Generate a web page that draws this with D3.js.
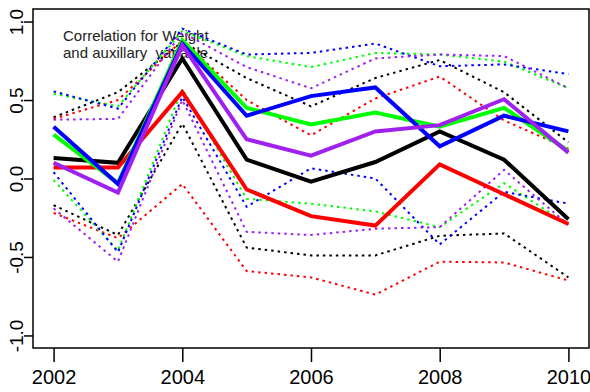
<!DOCTYPE html>
<html>
<head>
<meta charset="utf-8">
<script src="https://cdn.jsdelivr.net/npm/d3@7/dist/d3.min.js"></script>
<style>
  body { margin: 0; background: #fff; }
</style>
</head>
<body>
<script>
//Years along the bottom
var years = [2002, 2003, 2004, 2005, 2006, 2007, 2008, 2009, 2010];

//Each group has a correlation estimate plus a lower and upper band
var blackMean  = [0.13, 0.10, 0.765, 0.12, -0.02, 0.105, 0.30, 0.12, -0.26];
var blackUpper = [0.39, 0.55, 0.87, 0.64, 0.46, 0.64, 0.755, 0.55, 0.23];
var blackLower = [-0.17, -0.36, 0.35, -0.44, -0.49, -0.49, -0.365, -0.35, -0.63];

var redMean  = [0.07, 0.07, 0.55, -0.07, -0.24, -0.30, 0.09, -0.10, -0.29];
var redUpper = [0.38, 0.50, 0.88, 0.50, 0.275, 0.51, 0.65, 0.37, 0.19];
var redLower = [-0.22, -0.38, -0.035, -0.59, -0.63, -0.74, -0.53, -0.535, -0.65];

var greenMean  = [0.28, -0.03, 0.88, 0.45, 0.345, 0.42, 0.33, 0.45, 0.175];
var greenUpper = [0.54, 0.46, 0.94, 0.78, 0.71, 0.80, 0.79, 0.745, 0.575];
var greenLower = [-0.01, -0.46, 0.57, -0.13, -0.16, -0.21, -0.31, -0.03, -0.295];

var blueMean  = [0.33, -0.035, 0.86, 0.40, 0.525, 0.58, 0.205, 0.40, 0.30];
var blueUpper = [0.555, 0.445, 0.955, 0.79, 0.80, 0.86, 0.715, 0.727, 0.665];
var blueLower = [0.04, -0.47, 0.52, -0.18, 0.065, 0.00, -0.42, -0.085, -0.16];

var purpleMean  = [0.10, -0.09, 0.85, 0.25, 0.145, 0.30, 0.34, 0.505, 0.165];
var purpleUpper = [0.375, 0.38, 0.93, 0.71, 0.575, 0.765, 0.79, 0.78, 0.575];
var purpleLower = [-0.19, -0.53, 0.50, -0.34, -0.36, -0.32, -0.31, 0.055, -0.295];

var xTicks = [2002, 2004, 2006, 2008, 2010];
var yTicks = [-1, -0.5, 0, 0.5, 1];
var titleLines = ["Correlation for Weight", "and auxillary  variable"];

//Put the groups together so we can loop over them
var groups = [
  { colour: "#000000", mean: blackMean, upper: blackUpper, lower: blackLower },
  { colour: "#ff0000", mean: redMean, upper: redUpper, lower: redLower },
  { colour: "#00ff00", mean: greenMean, upper: greenUpper, lower: greenLower },
  { colour: "#0000ff", mean: blueMean, upper: blueUpper, lower: blueLower },
  { colour: "#a020f0", mean: purpleMean, upper: purpleUpper, lower: purpleLower }
];

var width = 590;
var height = 392;
var box = { left: 33, right: 589, top: 9, bottom: 348 };

var svg = d3.select("body")
  .append("svg")
  .attr("width", width)
  .attr("height", height)
  .style("font-family", "'Liberation Sans', Arial, sans-serif");

//R pads the axis ranges by 4% on each side
var x = d3.scaleLinear()
  .domain([2001.68, 2010.32])
  .range([box.left, box.right]);

var y = d3.scaleLinear()
  .domain([-1.08, 1.08])
  .range([box.bottom, box.top]);

//Title text sits under the lines
var title = svg.append("text")
  .attr("x", 63)
  .attr("y", 41)
  .style("font-size", "15px")
  .attr("fill", "#222");

title.selectAll("tspan")
  .data(titleLines)
  .enter().append("tspan")
  .attr("x", 63)
  .attr("dy", function(d, i) { return i === 0 ? 0 : 17; })
  .attr("xml:space", "preserve")
  .text(function(d) { return d; });

var line = d3.line()
  .x(function(d, i) { return x(years[i]); })
  .y(function(d) { return y(d); });

//Dotted bands first
groups.forEach(function(g) {
  [g.upper, g.lower].forEach(function(band) {
    svg.append("path")
      .attr("d", line(band))
      .attr("fill", "none")
      .attr("stroke", g.colour)
      .attr("stroke-width", 2)
      .attr("stroke-dasharray", "2.5,4");
  });
});

//Then the solid estimates on top
groups.forEach(function(g) {
  svg.append("path")
    .attr("d", line(g.mean))
    .attr("fill", "none")
    .attr("stroke", g.colour)
    .attr("stroke-width", 4)
    .attr("stroke-linejoin", "miter");
});

//Box round the plot
svg.append("rect")
  .attr("x", box.left)
  .attr("y", box.top)
  .attr("width", box.right - box.left)
  .attr("height", box.bottom - box.top)
  .attr("fill", "none")
  .attr("stroke", "#000")
  .attr("stroke-width", 1.5);

//x axis
var xAxis = svg.append("g")
  .attr("transform", "translate(0," + box.bottom + ")")
  .call(d3.axisBottom(x).tickValues(xTicks).tickSize(14).tickFormat(d3.format("d")));

xAxis.select(".domain").remove();
xAxis.selectAll("line").attr("stroke-width", 1.5);
xAxis.selectAll("text")
  .attr("y", 36)
  .attr("dy", null)
  .attr("fill", "#000")
  .style("font-size", "20px")
  .style("font-family", "'Liberation Sans', Arial, sans-serif");

//y axis, labels turned on their side like R does
var yAxis = svg.append("g")
  .attr("transform", "translate(" + box.left + ",0)")
  .call(d3.axisLeft(y).tickValues(yTicks).tickSize(9)
    .tickFormat(function(d) { return d.toFixed(1); }));

yAxis.select(".domain").remove();
yAxis.selectAll("line").attr("stroke-width", 1.5);
yAxis.selectAll("text")
  .attr("transform", "rotate(-90)")
  .attr("x", 0)
  .attr("y", -10)
  .attr("dy", null)
  .attr("text-anchor", "middle")
  .attr("fill", "#000")
  .style("font-size", "19px")
  .style("font-family", "'Liberation Sans', Arial, sans-serif");
</script>
</body>
</html>
